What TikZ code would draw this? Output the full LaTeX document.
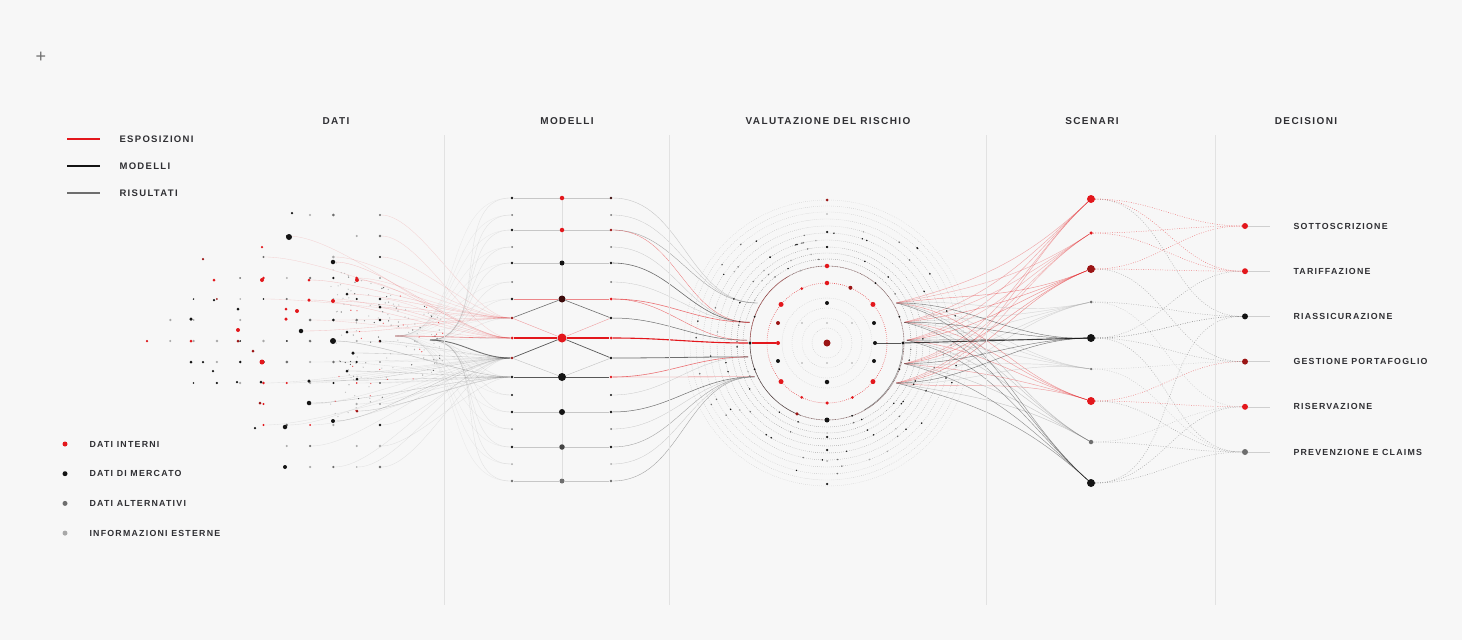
\documentclass[tikz,border=0pt]{standalone}
\usepackage{fontspec}
\newfontfamily\labfont{Liberation Sans}[LetterSpace=14]
\usetikzlibrary{calc}
\pgfdeclarelayer{bgl}
\pgfdeclarelayer{back}
\pgfsetlayers{bgl,back,main}
\definecolor{bg}{HTML}{F7F7F7}
\definecolor{rd}{HTML}{E3171C}
\definecolor{dr}{HTML}{9B1515}
\definecolor{kk}{HTML}{141414}
\definecolor{gr}{HTML}{6E6E6E}
\definecolor{lg}{HTML}{A8A8A8}
\definecolor{txt}{HTML}{2F2F33}
\definecolor{sep}{HTML}{E2E2E2}
\definecolor{mb}{HTML}{3C0B0B}
\definecolor{mg}{HTML}{444444}

\begin{document}
\begin{tikzpicture}[x=1pt,y=-1pt,
    blob/.style={circle,inner sep=0pt,minimum size=#1},
    head/.style={font=\labfont\bfseries\fontsize{10}{12}\selectfont,text=txt},
    lab/.style={font=\labfont\bfseries\fontsize{8.8}{11}\selectfont,text=txt,anchor=west},
    keyline/.style={line width=1.4pt},
    sepline/.style={draw=sep,line width=.6pt},
    fanline/.style={line width=.35pt,opacity=.16},
    rowline/.style={line width=.5pt,draw=lg,opacity=.6},
    orbit/.style={line width=.4pt,dash pattern=on .6pt off 1.4pt},
    scline/.style={line width=.5pt,dash pattern=on .8pt off 1.6pt}]

  \begin{pgfonlayer}{bgl}
    \fill[bg] (0,0) rectangle (1462,640);
  \end{pgfonlayer}
  \useasboundingbox (0,0) rectangle (1462,640);

  % headers and separators
  \node[text=gr,font=\labfont\fontsize{18}{18}\selectfont] (plus) at (41,57) {+};
  \node[head] (h1) at (336,121) {DATI};
  \node[head] (h2) at (567,121) {MODELLI};
  \node[head] (h3) at (828,121) {VALUTAZIONE DEL RISCHIO};
  \node[head] (h4) at (1092,121) {SCENARI};
  \node[head] (h5) at (1306,121) {DECISIONI};
  \foreach \x [count=\n] in {444,669,986,1215}{
    \coordinate (st\n) at (\x,135);
    \coordinate (sb\n) at (\x,605);
    \draw[sepline] (st\n) -- (sb\n);
  }

  % legend, lines
  \foreach \k/\cl/\t in {1/rd/ESPOSIZIONI,2/kk/MODELLI,3/gr/RISULTATI}{
    \coordinate (ka\k) at (67,{139+27*(\k-1)});
    \coordinate (kb\k) at (100,{139+27*(\k-1)});
    \draw[keyline,draw=\cl] (ka\k) -- (kb\k);
    \node[lab,font=\labfont\bfseries\fontsize{9.5}{11}\selectfont] (kt\k) at (116,{139+27*(\k-1)}) {\t};
  }

  % legend, dots
  \foreach \k/\cl/\t in {1/rd/DATI INTERNI,2/kk/DATI DI MERCATO,3/gr/DATI ALTERNATIVI,4/lg/INFORMAZIONI ESTERNE}{
    \node[blob=5pt,fill=\cl] (g\k) at (65,{444+29.7*(\k-1)}) {};
    \node[lab] (gt\k) at (86,{444+29.7*(\k-1)}) {\t};
  }

  % modelli
  \foreach \k/\y/\cl/\s in {1/198/kk/2.6,2/215/gr/2,3/230/kk/2.6,4/247/gr/2,5/263/kk/2.6,6/282/gr/2,7/299/kk/2.6,8/318/dr/2.8,9/338/rd/3,10/358/dr/2.8,11/377/kk/2.8,12/395/kk/2.4,13/412/kk/2.6,14/429/gr/2,15/447/kk/2.6,16/464/lg/2,17/481/gr/2.6}
    \node[blob=\s pt,fill=\cl] (l\k) at (512,\y) {};
  \foreach \k/\y/\cl/\s in {1/198/mb/2.6,2/215/gr/2,3/230/dr/2.6,4/247/gr/2,5/263/kk/2.8,6/282/gr/2,7/299/rd/3,8/318/kk/2.8,9/338/rd/3,10/358/kk/2.8,11/377/rd/2.8,12/395/kk/2.4,13/412/kk/2.8,14/429/gr/2,15/447/kk/2.8,16/464/lg/2,17/481/gr/2.8}
    \node[blob=\s pt,fill=\cl] (r\k) at (611,\y) {};
  \foreach \k/\y/\cl/\s in {1/198/rd/4.5,3/230/rd/4.5,5/263/kk/5,7/299/mb/7,9/338/rd/9,11/377/kk/8,13/412/kk/6,15/447/mg/5.5,17/481/gr/5}
    \node[blob=\s pt,fill=\cl] (m\k) at (562,\y) {};
  \begin{pgfonlayer}{back}
    \draw[rowline,opacity=.3] (m1) -- (m17);
    \foreach \k in {1,3,5,13,15,17}
      \draw[rowline] (l\k) -- (m\k) -- (r\k);
    \draw[rd,line width=.5pt,opacity=.5] (l7) -- (m7) -- (r7);
    \draw[rd,line width=1.1pt] (l9) -- (m9) -- (r9);
    \draw[kk,line width=.8pt,opacity=.7] (l11) -- (m11) -- (r11);
    \draw[kk,line width=.6pt,opacity=.6] (l8) -- (m7) -- (r8);
    \draw[kk,line width=.7pt,opacity=.7] (l10) -- (m9) -- (r10);
    \draw[gr,line width=.4pt,opacity=.4] (l10) -- (m11) -- (r10);
    \draw[rd,line width=.4pt,opacity=.4] (l8) -- (m9) -- (r8);
  \end{pgfonlayer}

  % dati: lattice
  \pgfmathsetseed{4242}
  \foreach \i in {0,...,10}{
    \foreach \j in {-6,...,6}{
      \pgfmathtruncatemacro{\keep}{(abs(\j)<=0.9*\i+0.3)*(rnd<0.8)}
      \ifnum\keep=1
        \pgfmathtruncatemacro{\cc}{int(rnd*20)}
        \edef\col{\ifcase\cc lg\or lg\or lg\or lg\or lg\or gr\or gr\or kk\or kk\or kk\or kk\or kk\or gr\or gr\or gr\or rd\or rd\or dr\or lg\or kk\fi}
        \pgfmathsetmacro{\sz}{1.7+rnd*1.3}
        \node[blob=\sz pt,fill=\col] (c\i-\j) at ({147+23.3*\i},{341+21*\j}) {};
        \pgfmathtruncatemacro{\fan}{(\i>=5)*(rnd<0.6)}
        \ifnum\fan=1
          \pgfmathtruncatemacro{\tg}{\j<0 ? 8+int(rnd*2) : 10+int(rnd*2)}
          \edef\fc{\ifnum\j<0 rd\else gr\fi}
          \begin{pgfonlayer}{back}
            \draw[fanline,draw=\fc] (c\i-\j) to[out=0,in=180,looseness=.6] (l\tg);
          \end{pgfonlayer}
        \fi
      \fi
    }
  }

  % dati: main points
  \foreach \x/\y/\s/\cl [count=\n] in {289/237/6/kk,292/213/2.5/kk,333/262/4.5/kk,262/247/2.5/rd,203/259/2.5/dr,
      214/280/3/rd,262/280/4/rd,309/280/3/rd,357/280/4/rd,333/301/4/rd,309/300/3.5/rd,214/300/2.5/kk,
      238/309/3/kk,286/309/3/rd,297/311/4/rd,286/319/3.5/rd,191/319/3.5/kk,347/294/3/kk,238/330/4/rd,
      301/331/4.5/kk,333/341/6/kk,347/332/3/kk,238/341/3/dr,191/341/3/rd,147/341/2.5/rd,253/351/3/dr,
      262/362/5/rd,191/362/3/kk,203/362/2.5/kk,213/371/2.5/kk,309/381/3.5/kk,237/382/2.5/kk,261/382/3/kk,
      357/379/3/kk,347/371/3/kk,353/353/3.5/kk,309/403/4.5/kk,260/403/3/dr,357/411/3/dr,333/421/4/kk,
      285/427/4.5/kk,255/428/2.5/kk,285/467/4/kk,380/341/3/kk,380/307/3/kk}{
    \node[blob=\s pt,fill=\cl] (p\n) at (\x,\y) {};
    \ifnum\x>300
      \pgfmathtruncatemacro{\tg}{\y<335 ? 8+mod(\n,2) : 10+mod(\n,2)}
      \edef\fc{\ifnum\y<335 rd\else kk\fi}
      \begin{pgfonlayer}{back}
        \draw[fanline,draw=\fc,opacity=.22] (p\n) to[out=0,in=180,looseness=.6] (l\tg);
      \end{pgfonlayer}
    \fi
  }

  % dati: waist
  \foreach \n in {1,...,160}{
    \pgfmathsetmacro{\wx}{330+115*rnd}
    \pgfmathsetmacro{\wy}{341+(75*(1-(\wx-330)/150)+8)*(2*rnd-1)}
    \pgfmathtruncatemacro{\cc}{int(rnd*6)}
    \edef\col{\ifcase\cc lg\or lg\or gr\or kk\or rd\or lg\fi}
    \node[blob=1.3pt,fill=\col,opacity=.7] (w\n) at (\wx,\wy) {};
  }
  \coordinate (waist) at (430,340);
  \coordinate (waist2) at (395,336);
  \begin{pgfonlayer}{back}
    \foreach \k in {1,...,17}{
      \draw[fanline,draw=gr] (waist) to[out=0,in=180] (l\k);
      \draw[fanline,draw=gr,opacity=.1] (waist2) to[out=0,in=180] (l\k);
    }
    \draw[kk,line width=.9pt,opacity=.55] (waist) to[out=0,in=180] (l10);
    \draw[rd,line width=.6pt,opacity=.5] (waist2) to[out=0,in=180] (l9);
  \end{pgfonlayer}

  % valutazione del rischio
  \node[blob=7pt,fill=dr] (v0) at (827,343) {};
  \node[blob=3.4pt,fill=kk] (ve) at (750,343) {};
  \node[blob=3.4pt,fill=kk] (vx) at (903,343) {};
  \begin{pgfonlayer}{back}
    \foreach \rr in {15,25,35,45}
      \draw[orbit,draw=lg,opacity=.6] (v0) circle[radius=\rr];
    \draw[orbit,draw=rd,line width=.6pt,opacity=.8] (v0) circle[radius=60];
    \draw[draw=mb,line width=.6pt,opacity=.6,dash pattern=on 1pt off .6pt] (v0) circle[radius=77];
    \foreach \rr/\op in {84/.85,90/.8,96/.75,103/.65,110/.6,117/.5,124/.45,131/.35}
      \draw[orbit,draw=gr,opacity=\op] (v0) circle[radius=\rr];
    \draw[orbit,draw=lg,opacity=.7] (v0) circle[radius=137];
    \draw[orbit,draw=lg,opacity=.5] (v0) circle[radius=143];
    \draw[kk,line width=.5pt,opacity=.5] (ve.center) arc[start angle=180,end angle=110,radius=77];
    \draw[kk,line width=.5pt,opacity=.5] (vx.center) arc[start angle=0,end angle=60,radius=77];
    \draw[dr,line width=.5pt,opacity=.5] (ve.center) arc[start angle=180,end angle=240,radius=77];
  \end{pgfonlayer}
  \foreach \rr in {84,90,96,103,110,117,124,131}{
    \foreach \t in {1,...,13}{
      \pgfmathsetmacro{\aa}{rnd*360}
      \pgfmathtruncatemacro{\cc}{int(rnd*4)}
      \edef\col{\ifcase\cc kk\or gr\or lg\or kk\fi}
      \node[blob=1.7pt,fill=\col] (o\rr-\t) at ($(v0)+(\aa:\rr)$) {};
    }
  }
  \foreach \a/\cl/\s [count=\n] in {270/rd/4.5,293/dr/4,245/rd/3,220/rd/5,320/rd/5,140/rd/5,40/rd/5,90/rd/3.5,115/rd/3,65/rd/3}
    \node[blob=\s pt,fill=\cl] (ra\n) at ($(v0)+(\a:60)$) {};
  \foreach \a/\cl/\s [count=\n] in {270/rd/4.5,309/kk/2,113/dr/3.5,71/kk/2,90/kk/5,250/lg/2,200/kk/2,160/kk/2,20/kk/2,340/kk/2}
    \node[blob=\s pt,fill=\cl] (rb\n) at ($(v0)+(\a:77)$) {};
  \foreach \x/\y/\cl/\s [count=\n] in {827/303/kk/4,827/382/kk/4.5,778/323/dr/4,778/343/rd/4,778/361/kk/4,874/323/kk/4,875/343/kk/4,874/361/kk/4,
      802/323/lg/1.6,852/323/lg/1.6,802/363/lg/1.6,852/363/lg/1.6,827/323/lg/1.6,827/363/lg/1.6}
    \node[blob=\s pt,fill=\cl] (vi\n) at (\x,\y) {};
  \foreach \y/\cl/\s [count=\n] in {200/dr/3,214/lg/1.6,232/kk/2.5,247/kk/2.5,437/kk/2.5,450/kk/2.5,461/lg/2,484/kk/2.5}
    \node[blob=\s pt,fill=\cl] (va\n) at (827,\y) {};

  % modelli -> valutazione
  \foreach \a [count=\n] in {210,195,182,170,155}
    \coordinate (e\n) at ($(v0)+(\a:80)$);
  \foreach \a [count=\n] in {330,345,358,15,30}
    \coordinate (x\n) at ($(v0)+(\a:80)$);
  \begin{pgfonlayer}{back}
    \foreach \k/\t/\cl/\w in {1/e1/lg/.4,2/e1/lg/.3,3/e1/gr/.4,4/e2/lg/.3,5/e2/kk/.6,6/e2/lg/.3,7/e2/rd/.6,8/e3/kk/.5,
        10/e4/kk/.8,11/e4/rd/.6,12/e4/lg/.3,13/e5/kk/.5,14/e5/lg/.3,15/e5/gr/.4,16/e5/lg/.3,17/e5/gr/.4,3/e2/rd/.3,7/e3/rd/.4,11/e5/rd/.3}
      \draw[line width=\w pt,draw=\cl,opacity=.6] (r\k) to[out=0,in=180] (\t);
    \draw[rd,line width=1.1pt] (r9) to[out=0,in=180] (ve);
    \draw[rd,line width=1.1pt] (ve) -- (vi4);
    \draw[kk,line width=.9pt,opacity=.7] (vx) -- (vi7);
  \end{pgfonlayer}

  % scenari
  \foreach \k/\y/\cl/\s in {1/199/rd/8,2/233/rd/3.5,3/269/dr/8,4/302/gr/3,5/338/kk/8,6/369/gr/2.5,7/401/rd/8,8/442/gr/4.5,9/483/kk/8}
    \node[blob=\s pt,fill=\cl] (s\k) at (1091,\y) {};
  \begin{pgfonlayer}{back}
    \foreach \k/\ys/\cl/\op in {1/199/rd/.35,2/233/rd/.3,3/269/rd/.45,4/302/lg/.4,5/338/kk/.55,6/369/lg/.4,7/401/rd/.4,8/442/gr/.35,9/483/kk/.45}{
      \pgfmathsetmacro{\ia}{180+(343-\ys)*0.3}
      \pgfmathsetmacro{\oa}{(343-\ys)*0.1}
      \foreach \e in {1,...,5}
        \draw[line width=.45pt,draw=\cl,opacity=\op] (x\e) to[out=\oa,in=\ia] (s\k);
    }
    \draw[kk,line width=.9pt,opacity=.8] (vx) -- (s5);
  \end{pgfonlayer}

  % decisioni
  \foreach \k/\cl/\t in {1/rd/SOTTOSCRIZIONE,2/rd/TARIFFAZIONE,3/kk/RIASSICURAZIONE,4/dr/GESTIONE PORTAFOGLIO,5/rd/RISERVAZIONE,6/gr/PREVENZIONE E CLAIMS}{
    \node[blob=6pt,fill=\cl] (d\k) at (1245,{226+45.2*(\k-1)}) {};
    \node[lab] (t\k) at (1290,{226+45.2*(\k-1)}) {\t};
    \draw[line width=.6pt,draw=lg,opacity=.5,shorten >=20pt] (d\k) -- (t\k.west);
  }
  \begin{pgfonlayer}{back}
    \foreach \a/\b/\cl in {1/1/rd,1/2/rd,1/3/gr,2/1/rd,2/2/rd,3/2/rd,3/1/rd,3/4/gr,4/3/gr,4/5/lg,5/3/kk,5/2/gr,5/4/gr,5/6/gr,
        6/4/lg,6/6/lg,7/5/rd,7/4/rd,7/6/gr,8/6/gr,8/5/lg,9/6/gr,9/5/gr,9/3/gr}
      \draw[scline,draw=\cl,opacity=.55] (s\a) to[out=0,in=180] (d\b);
  \end{pgfonlayer}

\end{tikzpicture}
\end{document}
